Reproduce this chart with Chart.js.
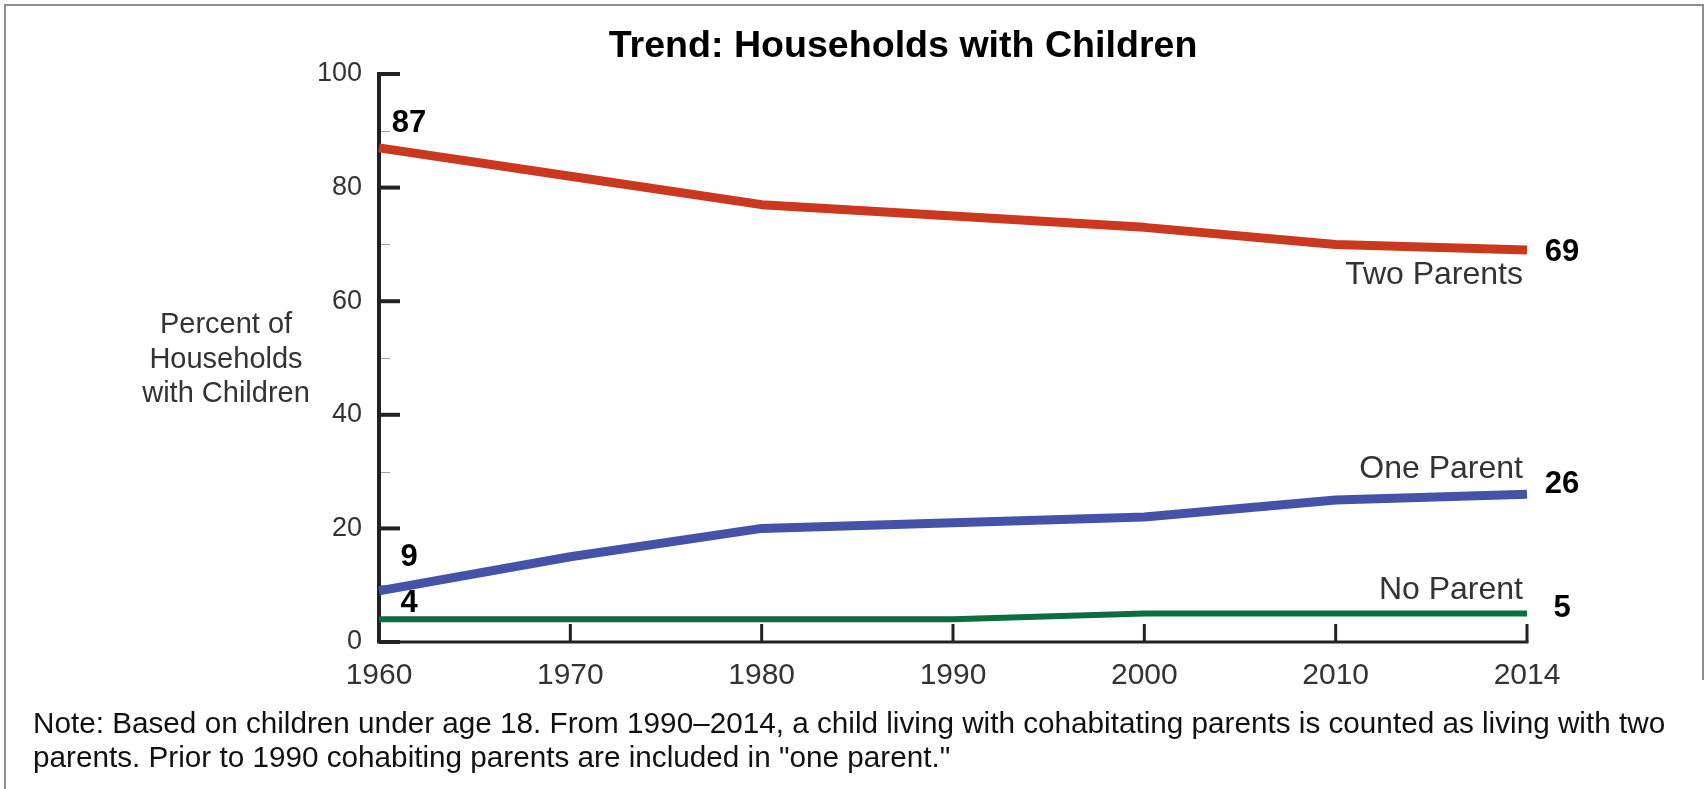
<!DOCTYPE html>
<html>
<head>
<meta charset="utf-8">
<title>Trend: Households with Children</title>
<script src="https://cdn.jsdelivr.net/npm/chart.js@4.4.1/dist/chart.umd.min.js"></script>
<style>
  html, body { margin: 0; padding: 0; background: #fff; }
  #wrap { position: relative; width: 1708px; height: 789px; }
</style>
</head>
<body>
<div id="wrap"><canvas id="trendChart" width="1708" height="789"></canvas></div>
<script>
const years = ['1960', '1970', '1980', '1990', '2000', '2010', '2014'];
const twoParents = [87, 82, 77, 75, 73, 70, 69];
const oneParent = [9, 15, 20, 21, 22, 25, 26];
const noParent = [4, 4, 4, 4, 5, 5, 5];
const yMajorTicks = [0, 20, 40, 60, 80, 100];
const yMinorTicks = [10, 30, 50, 70, 90];
const seriesNames = ['Two Parents', 'One Parent', 'No Parent'];
const chartTitle = 'Trend: Households with Children';
const yTitle = ['Percent of', 'Households', 'with Children'];
const noteLines = [
	'Note: Based on children under age 18. From 1990\u20132014, a child living with cohabitating parents is counted as living with two',
	'parents. Prior to 1990 cohabiting parents are included in "one parent."',
];

const FONT = '"Liberation Sans", Arial, Helvetica, sans-serif';

function line(ctx, x1, y1, x2, y2) {
	ctx.beginPath();
	ctx.moveTo(x1, y1);
	ctx.lineTo(x2, y2);
	ctx.stroke();
}

// axes, ticks, frame and all the text around the plot
const decorations = {
	id: 'decorations',
	beforeDatasetsDraw(chart) {
		const { ctx, chartArea: area, scales } = chart;
		const x = scales.x;
		const y = scales.y;
		ctx.save();

		// outer frame
		ctx.strokeStyle = '#8e8e8e';
		ctx.lineWidth = 2;
		ctx.beginPath();
		ctx.moveTo(5, 789);
		ctx.lineTo(5, 5);
		ctx.lineTo(1703, 5);
		ctx.lineTo(1703, 680);
		ctx.stroke();

		// minor y ticks
		ctx.strokeStyle = '#a0a0a0';
		ctx.lineWidth = 1;
		yMinorTicks.forEach(function (v) {
			const py = Math.round(y.getPixelForValue(v)) + 0.5;
			line(ctx, area.left, py, area.left + 11, py);
		});

		// major y ticks
		ctx.strokeStyle = '#222';
		ctx.lineWidth = 4;
		yMajorTicks.forEach(function (v) {
			const py = y.getPixelForValue(v);
			line(ctx, area.left, py, area.left + 21, py);
		});

		// x ticks pointing up into the plot
		ctx.lineWidth = 3;
		years.forEach(function (_, i) {
			const px = x.getPixelForValue(i);
			line(ctx, px, area.bottom, px, area.bottom - 18);
		});

		// axis lines
		ctx.lineWidth = 3;
		line(ctx, area.left, area.bottom, area.right + 1.5, area.bottom);
		ctx.lineWidth = 4;
		line(ctx, area.left, area.top - 2, area.left, area.bottom + 1.5);

		ctx.restore();
	},
	afterDatasetsDraw(chart) {
		const { ctx, scales } = chart;
		const x = scales.x;
		const y = scales.y;
		const last = years.length - 1;
		ctx.save();

		// title
		ctx.fillStyle = '#000';
		ctx.font = 'bold 37.6px ' + FONT;
		ctx.textAlign = 'center';
		ctx.textBaseline = 'alphabetic';
		ctx.fillText(chartTitle, 903, 57);

		// y axis title, horizontal
		ctx.fillStyle = '#333';
		ctx.font = '29px ' + FONT;
		yTitle.forEach(function (t, i) {
			ctx.fillText(t, 226, 333 + i * 34.5);
		});

		chart.data.datasets.forEach(function (ds) {
			const x0 = x.getPixelForValue(0);
			const xN = x.getPixelForValue(last);
			const y0 = y.getPixelForValue(ds.data[0]);
			const yN = y.getPixelForValue(ds.data[last]);
			const o = ds.labelOffsets;

			// series name at the right end
			ctx.fillStyle = '#333';
			ctx.font = '32px ' + FONT;
			ctx.textAlign = 'right';
			ctx.textBaseline = 'alphabetic';
			ctx.fillText(ds.label, xN - 4, yN + o.name);

			// first and last values
			ctx.fillStyle = '#000';
			ctx.font = 'bold 31px ' + FONT;
			ctx.textAlign = 'center';
			ctx.textBaseline = 'middle';
			ctx.fillText(String(ds.data[0]), x0 + 30, y0 + o.start);
			ctx.fillText(String(ds.data[last]), xN + 35, yN + o.end);
		});

		// footnote
		ctx.fillStyle = '#111';
		ctx.font = '29.7px ' + FONT;
		ctx.textAlign = 'left';
		ctx.textBaseline = 'alphabetic';
		noteLines.forEach(function (t, i) {
			ctx.fillText(t, 33, 733 + i * 34);
		});

		ctx.restore();
	},
};

new Chart(document.getElementById('trendChart'), {
	type: 'line',
	data: {
		labels: years,
		datasets: [
			{
				label: seriesNames[0],
				data: twoParents,
				borderColor: '#c9381f',
				borderWidth: 9,
				labelOffsets: { start: -24, end: 2, name: 34 },
			},
			{
				label: seriesNames[1],
				data: oneParent,
				borderColor: '#4453a7',
				borderWidth: 9,
				labelOffsets: { start: -33, end: -10, name: -16 },
			},
			{
				label: seriesNames[2],
				data: noParent,
				borderColor: '#0c6e3f',
				borderWidth: 6,
				labelOffsets: { start: -16, end: -5, name: -15 },
			},
		],
	},
	options: {
		responsive: false,
		animation: false,
		clip: false,
		layout: {
			padding: { left: 300, right: 181, top: 74, bottom: 87 },
		},
		elements: {
			point: { radius: 0, hoverRadius: 0 },
			line: { tension: 0, fill: false, borderJoinStyle: 'round', borderCapStyle: 'butt' },
		},
		plugins: {
			legend: { display: false },
			tooltip: { enabled: false },
			title: { display: false },
		},
		scales: {
			x: {
				type: 'category',
				offset: false,
				grid: { display: false, drawTicks: false },
				border: { display: false },
				ticks: { font: { family: FONT, size: 30 }, color: '#333', padding: 16, maxRotation: 0, autoSkip: false },
				afterFit: function (scale) {
					scale.height = 60;
				},
			},
			y: {
				min: 0,
				max: 100,
				grid: { display: false, drawTicks: false },
				border: { display: false },
				ticks: { stepSize: 20, font: { family: FONT, size: 27 }, color: '#333', padding: 17 },
				afterFit: function (scale) {
					scale.width = 79;
				},
			},
		},
	},
	plugins: [decorations],
});
</script>
</body>
</html>
